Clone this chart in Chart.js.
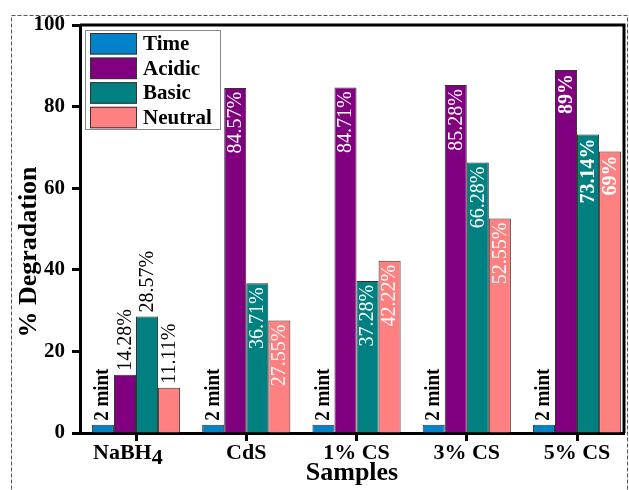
<!DOCTYPE html>
<html lang="en">
<head>
    <meta charset="UTF-8">
    <title>% Degradation by sample</title>
    <script src="https://cdn.jsdelivr.net/npm/chart.js"></script>
    <style>
        html, body { margin: 0; padding: 0; background: #fff; overflow: hidden; }
        #wrap { width: 629px; height: 490px; position: relative; }
    </style>
</head>
<body>
    <div id="wrap">
        <canvas id="degChart" width="629" height="490"></canvas>
    </div>

    <script>
        // chart data
        const samples = ['NaBH4', 'CdS', '1% CS', '3% CS', '5% CS'];
        const timeVals = [2, 2, 2, 2, 2];
        const acidicVals = [14.28, 84.57, 84.71, 85.28, 89];
        const basicVals = [28.57, 36.71, 37.28, 66.28, 73.14];
        const neutralVals = [11.11, 27.55, 42.22, 52.55, 69];
        const seriesNames = ['Time', 'Acidic', 'Basic', 'Neutral'];
        const seriesColors = ['#0382c8', '#800080', '#008080', '#ff8080'];
        const yTicks = [0, 20, 40, 60, 80, 100];

        const serif = 'Liberation Serif, Times New Roman, serif';

        function toPoints(vals) {
            return vals.map((v, i) => ({ x: i + 1, y: v }));
        }

        // label text for each bar
        function barLabel(dsIndex, i) {
            if (dsIndex === 0) return timeVals[i] + ' mint';
            const vals = [null, acidicVals, basicVals, neutralVals][dsIndex];
            return vals[i] + '%';
        }

        const extrasPlugin = {
            id: 'extras',
            beforeDraw(chart) {
                const ctx = chart.ctx;
                ctx.save();
                ctx.strokeStyle = '#555';
                ctx.lineWidth = 1;
                ctx.setLineDash([4, 2]);
                ctx.strokeRect(11.5, 15.5, 616, 500);
                ctx.restore();
            },
            afterDatasetsDraw(chart) {
                const ctx = chart.ctx;
                chart.data.datasets.forEach((ds, d) => {
                    const meta = chart.getDatasetMeta(d);
                    meta.data.forEach((bar, i) => {
                        const txt = barLabel(d, i);
                        const inside = d > 0 && i > 0;
                        ctx.save();
                        ctx.textBaseline = 'middle';
                        if (d === 0) {
                            ctx.font = 'bold 19px ' + serif;
                        } else {
                            ctx.font = (i === 4 ? 'bold ' : '') + '20px ' + serif;
                        }
                        ctx.fillStyle = inside ? '#fff' : '#000';
                        ctx.translate(bar.x, inside ? bar.y + 4 : bar.y - 4);
                        ctx.rotate(-Math.PI / 2);
                        ctx.scale(1, 1.1);
                        ctx.textAlign = inside ? 'right' : 'left';
                        ctx.fillText(txt, 0, 0);
                        ctx.restore();
                    });
                });
            },
            afterDraw(chart) {
                const ctx = chart.ctx;
                const a = chart.chartArea;
                const xs = chart.scales.x;
                ctx.save();
                // top and right frame
                ctx.strokeStyle = '#000';
                ctx.lineWidth = 3;
                ctx.beginPath();
                ctx.moveTo(a.left, a.top);
                ctx.lineTo(a.right, a.top);
                ctx.lineTo(a.right, a.bottom);
                ctx.stroke();

                // x labels
                ctx.fillStyle = '#000';
                ctx.font = 'bold 22px ' + serif;
                ctx.textBaseline = 'alphabetic';
                samples.forEach((s, i) => {
                    const px = xs.getPixelForValue(i + 1);
                    if (s === 'NaBH4') {
                        const main = 'NaBH', sub = '4';
                        ctx.textAlign = 'left';
                        const x0 = px - 43;
                        ctx.fillText(main, x0, 459);
                        ctx.fillText(sub, x0 + ctx.measureText(main).width, 464);
                    } else {
                        ctx.textAlign = 'center';
                        ctx.fillText(s, px, 459);
                    }
                });

                // axis titles
                ctx.font = 'bold 26px ' + serif;
                ctx.textAlign = 'center';
                ctx.fillText('Samples', 352, 480);
                ctx.save();
                ctx.translate(36, 252);
                ctx.rotate(-Math.PI / 2);
                ctx.fillText('% Degradation', 0, 0);
                ctx.restore();

                // legend
                ctx.fillStyle = '#fff';
                ctx.fillRect(85, 30, 135, 99);
                ctx.strokeStyle = '#888';
                ctx.lineWidth = 1;
                ctx.strokeRect(85.5, 30.5, 135, 99);
                ctx.font = 'bold 21px ' + serif;
                ctx.textAlign = 'left';
                ctx.textBaseline = 'middle';
                seriesNames.forEach((n, k) => {
                    const y = 33 + k * 24.6;
                    ctx.fillStyle = seriesColors[k];
                    ctx.fillRect(90, y, 47, 21.5);
                    ctx.strokeStyle = '#333';
                    ctx.strokeRect(90.5, y + 0.5, 46, 20.5);
                    ctx.fillStyle = '#000';
                    ctx.fillText(n, 143, y + 11.5);
                });
                ctx.restore();
            }
        };

        const ctx = document.getElementById('degChart').getContext('2d');
        new Chart(ctx, {
            type: 'bar',
            data: {
                datasets: [timeVals, acidicVals, basicVals, neutralVals].map((vals, k) => ({
                    label: seriesNames[k],
                    data: toPoints(vals),
                    backgroundColor: seriesColors[k],
                    borderColor: '#333',
                    borderWidth: 1,
                    categoryPercentage: 0.8,
                    barPercentage: 1.0
                }))
            },
            options: {
                responsive: false,
                animation: false,
                layout: { padding: { left: 0, top: 25, right: 5, bottom: 0 } },
                plugins: {
                    legend: { display: false },
                    tooltip: { enabled: false }
                },
                scales: {
                    x: {
                        type: 'linear',
                        min: 0.492,
                        max: 5.426,
                        offset: false,
                        afterBuildTicks(scale) {
                            scale.ticks = samples.map((s, i) => ({ value: i + 1 }));
                        },
                        afterFit(scale) { scale.height = 57; },
                        ticks: { callback: () => '' },
                        grid: {
                            offset: false,
                            drawOnChartArea: false,
                            drawTicks: true,
                            tickLength: 8,
                            tickWidth: 3,
                            tickColor: '#000'
                        },
                        border: { display: true, color: '#000', width: 3 }
                    },
                    y: {
                        min: 0,
                        max: 100,
                        afterBuildTicks(scale) {
                            scale.ticks = yTicks.map(v => ({ value: v }));
                        },
                        afterFit(scale) { scale.width = 80; },
                        ticks: {
                            color: '#000',
                            padding: 7,
                            font: { family: serif, size: 21, weight: 'bold' }
                        },
                        grid: {
                            drawOnChartArea: false,
                            drawTicks: true,
                            tickLength: 8,
                            tickWidth: 3,
                            tickColor: '#000'
                        },
                        border: { display: true, color: '#000', width: 3 }
                    }
                }
            },
            plugins: [extrasPlugin]
        });
    </script>
</body>
</html>
